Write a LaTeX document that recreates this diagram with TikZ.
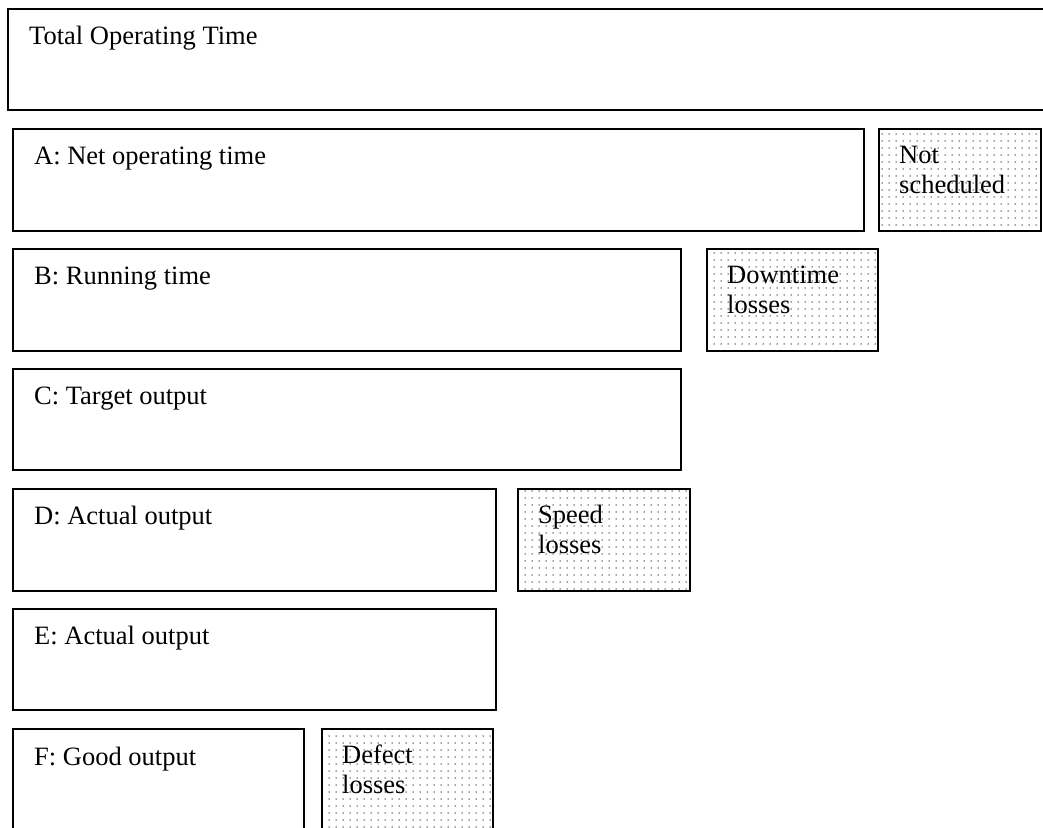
\documentclass[tikz,border=0pt]{standalone}
\usepackage{fontspec}
\setmainfont{Liberation Serif}
\usetikzlibrary{patterns.meta}
\tikzset{
  box/.style={draw=black, line width=1.6pt, anchor=north west, inner sep=0pt, outer sep=0pt},
  loss/.style={box, pattern={Dots[distance=7pt,radius=0.75pt]}, pattern color=black!75},
  lbl/.style={anchor=base west, inner sep=0pt, font=\fontsize{26.5}{30}\selectfont},
  losslbl/.style={lbl, align=left},
}
\begin{document}
\begin{tikzpicture}[x=1pt,y=-1pt]
\useasboundingbox (0,0) rectangle (1043,827);
\node[box, minimum width=1060pt, minimum height=101pt] (T) at (8,9) {};
\node[box, minimum width=851pt, minimum height=102pt] (A) at (13,129) {};
\node[loss, minimum width=162pt, minimum height=102pt] (NS) at (879,129) {};
\node[box, minimum width=668pt, minimum height=102pt] (B) at (13,249) {};
\node[loss, minimum width=171pt, minimum height=102pt] (DL) at (707,249) {};
\node[box, minimum width=668pt, minimum height=101pt] (C) at (13,369) {};
\node[box, minimum width=483pt, minimum height=102pt] (D) at (13,489) {};
\node[loss, minimum width=172pt, minimum height=102pt] (SL) at (518,489) {};
\node[box, minimum width=483pt, minimum height=101pt] (E) at (13,609) {};
\node[box, minimum width=291pt, minimum height=130pt] (F) at (13,729) {};
\node[loss, minimum width=171pt, minimum height=130pt] (DF) at (322,729) {};

\node[lbl] (tT) at ([shift={(21,35)}]T.north west) {Total Operating Time};
\node[lbl] (tA) at ([shift={(21,35)}]A.north west) {A: Net operating time};
\node[lbl] (tB) at ([shift={(21,35)}]B.north west) {B: Running time};
\node[lbl] (tC) at ([shift={(21,35)}]C.north west) {C: Target output};
\node[lbl] (tD) at ([shift={(21,35)}]D.north west) {D: Actual output};
\node[lbl] (tE) at ([shift={(21,35)}]E.north west) {E: Actual output};
\node[lbl] (tF) at ([shift={(21,36)}]F.north west) {F: Good output};

\node[losslbl] (tNS) at ([shift={(20,64)}]NS.north west) {Not\\scheduled};
\node[losslbl] (tDL) at ([shift={(20,64)}]DL.north west) {Downtime\\losses};
\node[losslbl] (tSL) at ([shift={(20,64)}]SL.north west) {Speed\\losses};
\node[losslbl] (tDF) at ([shift={(20,64)}]DF.north west) {Defect\\losses};
\end{tikzpicture}
\end{document}
